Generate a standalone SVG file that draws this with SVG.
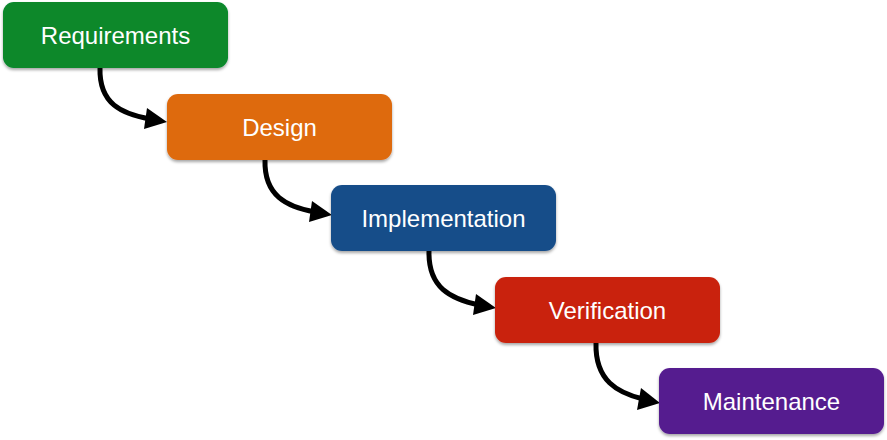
<svg xmlns="http://www.w3.org/2000/svg" width="887" height="440" viewBox="0 0 887 440">
<defs>
<filter id="sh" x="-10%" y="-10%" width="120%" height="130%">
<feDropShadow dx="0" dy="2" stdDeviation="1.5" flood-color="#000" flood-opacity="0.35"/>
</filter>
</defs>
<style>
.box{filter:url(#sh)}
.lbl{font-family:"Liberation Sans",Arial,Helvetica,sans-serif;font-size:24px;fill:#fff;text-anchor:middle;dominant-baseline:central}
.con{fill:none;stroke:#000;stroke-width:5}
.head{fill:#000}
</style>
<rect width="887" height="440" fill="#fff"/>
<g id="connectors">
<path class="con" d="M100,68 C99,104 122,114 150,119"/>
<path class="head" d="M147,108 L167,122 L144,129 z"/>
<path class="con" d="M265,160 C264,196 287,207 315,212"/>
<path class="head" d="M312,201 L332,215 L309,222 z"/>
<path class="con" d="M429,251 C428,288 451,299 479,305"/>
<path class="head" d="M476,294 L496,308 L473,315 z"/>
<path class="con" d="M596,343 C595,381 618,393 643,399"/>
<path class="head" d="M641,388 L660,403 L637,410 z"/>
</g>
<g id="requirements">
<rect class="box" x="3" y="2" width="225" height="66" rx="11" fill="#07882c"/>
<text class="lbl" x="115.5" y="35">Requirements</text>
</g>
<g id="design">
<rect class="box" x="167" y="94" width="225" height="66" rx="11" fill="#de6a11"/>
<text class="lbl" x="279.5" y="127">Design</text>
</g>
<g id="implementation">
<rect class="box" x="331" y="185" width="225" height="66" rx="11" fill="#184e89"/>
<text class="lbl" x="443.5" y="218">Implementation</text>
</g>
<g id="verification">
<rect class="box" x="495" y="277" width="225" height="66" rx="11" fill="#c9240b"/>
<text class="lbl" x="607.5" y="310">Verification</text>
</g>
<g id="maintenance">
<rect class="box" x="659" y="368" width="225" height="66" rx="11" fill="#551a8f"/>
<text class="lbl" x="771.5" y="401">Maintenance</text>
</g>
</svg>
